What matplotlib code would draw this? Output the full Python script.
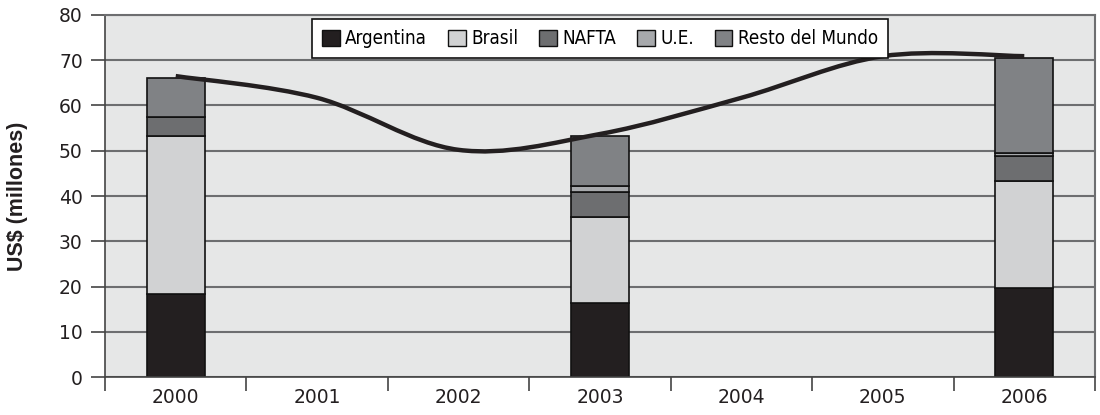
import matplotlib
matplotlib.use("Agg")
import matplotlib.pyplot as plt
from matplotlib import font_manager
from matplotlib.path import Path
from matplotlib.patches import PathPatch, Patch
import numpy as np

years = ["2000", "2001", "2002", "2003", "2004", "2005", "2006"]
bar_idx = [0, 3, 6]
argentina = [18.3, 16.4, 19.7]
brasil = [35.0, 19.0, 23.7]
nafta = [4.1, 5.4, 5.5]
ue = [0.0, 1.3, 0.5]
resto = [8.6, 11.2, 21.2]
total_line = [66.5, 61.7, 50.2, 53.7, 61.7, 70.9, 70.9]

series = [("Argentina", argentina, "#231f20"),
          ("Brasil", brasil, "#d1d2d3"),
          ("NAFTA", nafta, "#6d6e70"),
          ("U.E.", ue, "#a7a9ac"),
          ("Resto del Mundo", resto, "#808285")]

plt.rcParams['font.family'] = ['DejaVu Sans']

names = {f.name for f in font_manager.fontManager.ttflist}
if "Liberation Sans Narrow" in names:
    leg_prop = font_manager.FontProperties(family=["Liberation Sans Narrow"], size=14.5)
else:
    leg_prop = font_manager.FontProperties(family=["DejaVu Sans"], stretch="condensed", size=13.5)

fig = plt.figure(figsize=(11, 4.15), dpi=100)
ax = fig.add_axes([105/1100, 38/415, 990/1100, 362/415])
ax.set_facecolor("#e6e7e7")

ax.set_xlim(-0.5, 6.5)
ax.set_ylim(0, 80)
ax.set_yticks(range(0, 81, 10))
ax.yaxis.grid(True, color="#6d6e70", linewidth=1.5, zorder=0)
ax.set_axisbelow(True)

bottom = np.zeros(len(bar_idx))
for name, vals, col in series:
    ax.bar(bar_idx, vals, bottom=bottom, width=0.41, color=col,
           edgecolor="#111111", linewidth=1.2, zorder=2)
    bottom += np.array(vals)

# smoothed line (Excel-like Bezier smoothing)
pts = np.column_stack([np.arange(len(total_line)), total_line]).astype(float)
n = len(pts)
verts = [tuple(pts[0])]
codes = [Path.MOVETO]
for i in range(n - 1):
    p0 = pts[i - 1] if i > 0 else pts[i]
    p1 = pts[i]
    p2 = pts[i + 1]
    p3 = pts[i + 2] if i + 2 < n else pts[i + 1]
    c1 = p1 + (p2 - p0) / 6.0
    c2 = p2 - (p3 - p1) / 6.0
    verts += [tuple(c1), tuple(c2), tuple(p2)]
    codes += [Path.CURVE4] * 3
ax.add_patch(PathPatch(Path(verts, codes), facecolor="none",
                       edgecolor="#231f20", linewidth=3.2, zorder=4,
                       capstyle="butt"))

ax.set_xticks(range(len(years)))
ax.set_xticklabels(years)
ax.set_xticks(np.arange(-0.5, 6.6, 1), minor=True)
ax.tick_params(axis="x", which="major", length=0, pad=8, labelsize=13.5,
               labelcolor="#231f20")
ax.tick_params(axis="x", which="minor", length=10, width=1.2, color="#444444",
               direction="out")
ax.tick_params(axis="y", length=10, width=1.2, color="#444444", pad=6,
               labelsize=13.5, labelcolor="#231f20")

for side in ["left", "bottom"]:
    ax.spines[side].set_color("#444444")
    ax.spines[side].set_linewidth(1.2)
for side in ["top", "right"]:
    ax.spines[side].set_color("#6d6e70")
    ax.spines[side].set_linewidth(1.5)

ax.set_ylabel("US$ (millones)", fontsize=15.5, fontweight="bold",
              family=["Liberation Sans", "DejaVu Sans"],
              color="#231f20", labelpad=22)

handles = [Patch(facecolor=c, edgecolor="#111111", linewidth=1.0, label=nm)
           for nm, _, c in series]
leg = ax.legend(handles=handles, loc="upper center", ncol=5, frameon=True,
                fancybox=False, edgecolor="#111111", framealpha=1,
                facecolor="white", prop=leg_prop,
                handlelength=0.95, handleheight=0.95, handletextpad=0.3,
                columnspacing=1.1, borderpad=0.55, borderaxespad=0.2,
                bbox_to_anchor=(0.5, 1.0))
leg.get_frame().set_linewidth(1.2)
leg.set_zorder(5)

fig.savefig("out.png", dpi=100)
